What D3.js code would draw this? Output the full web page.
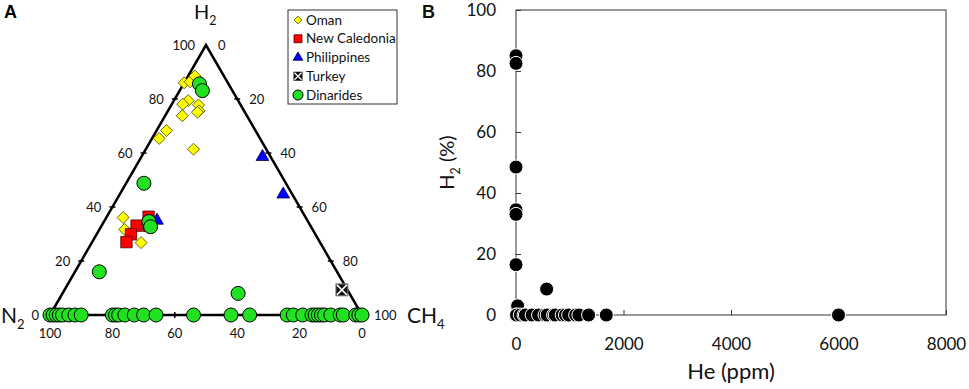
<!DOCTYPE html>
<html>
<head>
<meta charset="utf-8">
<script src="https://cdn.jsdelivr.net/npm/d3@7"></script>
<style>
    body { margin: 0; background: #fff; }
    svg { display: block; font-family: Lato, "Open Sans", sans-serif; }
</style>
</head>
<body>
<div id="chart"></div>
<script>
// Panel A, ternary H2 / N2 / CH4: each point is [H2 %, CH4 %], N2 is the rest
const omanPts = [[86, 0], [86.4, 1.7], [88.5, 2.2], [79.4, 4.6], [78.1, 3.5], [77.8, 8.7], [75.6, 10],
    [75.1, 9.7], [73.8, 5.5], [68.3, 3.2], [65.4, 2.3], [61.4, 15.3], [36.1, 5.4], [31.7, 8.1], [26.8, 15.8]];
const caledoniaPts = [[36.4, 13.4], [33.1, 11.2], [29.9, 11], [27, 11], [33, 15.2]];
const philippinesPts = [[35, 16.8], [58.6, 38.8], [44.7, 52.4]];
const turkeyPts = [[9.3, 88.9]];
const dinaridesPts = [[85.6, 5.1], [83.1, 7.3], [48.8, 5.7], [34.6, 14.4], [32.7, 15.9], [16, 7.8], [8, 56.3]];
// Dinarides samples with no H2, given by their CH4 %
const dinaridesNoH2 = [0, 1, 2, 3, 4, 6, 8, 10, 20, 21, 22, 24, 27, 30, 34, 46, 58, 64, 76, 78, 81, 84, 85,
    86, 87, 88, 90, 93, 94, 98, 99, 100];
const ternaryTicks = [20, 40, 60, 80];
const ternaryLabels = [0, 20, 40, 60, 80, 100];

// Panel B, He (ppm) against H2 (%)
const heValues = [0, 0, 0, 0, 0, 0, 30, 570, 0, 10, 80, 150, 175, 300, 420, 540, 580, 700, 730, 860, 920,
    980, 1110, 1170, 1350, 1680, 6000];
const h2Values = [85, 82.5, 48.5, 34.5, 33, 16.5, 3, 8.5, 0, 0, 0, 0, 0, 0, 0, 0, 0, 0, 0, 0, 0,
    0, 0, 0, 0, 0, 0];
const heTicks = [0, 2000, 4000, 6000, 8000];
const h2Ticks = [0, 20, 40, 60, 80, 100];

const legendNames = ['Oman', 'New Caledonia', 'Philippines', 'Turkey', 'Dinarides'];

const svg = d3.select('#chart').append('svg')
    .attr('width', 969)
    .attr('height', 389);

// ---------- panel A ----------
const tx = d3.scaleLinear().domain([0, 100]).range([50, 362]);
const ty = d3.scaleLinear().domain([0, 100]).range([315, 45]);
const pos = (h2, ch4) => [tx(ch4 + h2 / 2), ty(h2)];

const gA = svg.append('g');

gA.append('path')
    .datum([pos(0, 0), pos(100, 0), pos(0, 100)])
    .attr('d', d => d3.line()(d) + 'Z')
    .attr('fill', 'none')
    .attr('stroke', '#000')
    .attr('stroke-width', 2.5)
    .attr('stroke-linejoin', 'miter');

// ticks: left side (H2), right side (CH4), bottom (N2)
ternaryTicks.forEach(t => {
    const l = pos(t, 0), r = pos(100 - t, t), b = pos(0, t);
    gA.append('line').attr('x1', l[0] - 3).attr('x2', l[0] + 3).attr('y1', l[1]).attr('y2', l[1])
        .attr('stroke', '#000').attr('stroke-width', 1.5);
    gA.append('line').attr('x1', r[0] - 3).attr('x2', r[0] + 3).attr('y1', r[1]).attr('y2', r[1])
        .attr('stroke', '#000').attr('stroke-width', 1.5);
    gA.append('line').attr('x1', b[0]).attr('x2', b[0]).attr('y1', b[1] - 3).attr('y2', b[1] + 3)
        .attr('stroke', '#000').attr('stroke-width', 1.5);
});

const labA = gA.append('g').style('font-size', '13px').attr('fill', '#111');
ternaryLabels.forEach(t => {
    const l = pos(t, 0), r = pos(100 - t, t), b = pos(0, t);
    labA.append('text').attr('x', l[0] - 11).attr('y', l[1]).attr('dy', '0.35em')
        .attr('text-anchor', 'end').text(t);
    labA.append('text').attr('x', r[0] + 12).attr('y', r[1]).attr('dy', '0.35em')
        .attr('text-anchor', 'start').text(t);
    labA.append('text').attr('x', b[0]).attr('y', b[1] + 18).attr('dy', '0.35em')
        .attr('text-anchor', 'middle').text(100 - t);
});

function subLabel(g, x, y, main, sub, size, anchor) {
    const t = g.append('text').attr('x', x).attr('y', y)
        .attr('text-anchor', anchor).style('font-size', size + 'px').attr('fill', '#111');
    t.append('tspan').text(main);
    t.append('tspan').attr('dy', size * 0.3).style('font-size', (size * 0.62) + 'px').text(sub);
    return t;
}
subLabel(gA, 194, 19, 'H', '2', 20, 'start');
subLabel(gA, 1, 323, 'N', '2', 21, 'start');
subLabel(gA, 407, 323, 'CH', '4', 21, 'start');

gA.append('text').attr('x', 4).attr('y', 18)
    .style('font-size', '18px').style('font-weight', 'bold').attr('font-family', 'Liberation Sans, Arial, sans-serif')
    .text('A');

// markers
const diamond = d3.symbol().type(d3.symbolSquare);
function drawSeries(data, shape) {
    return gA.append('g').selectAll('path')
        .data(data)
        .join('path')
        .attr('transform', d => {
            const p = pos(d[0], d[1]);
            return `translate(${p[0]},${p[1]})` + (shape === 'diamond' ? ' rotate(45)' : '');
        });
}

drawSeries(omanPts, 'diamond')
    .attr('d', diamond.size(72)())
    .attr('fill', '#ffff00')
    .attr('stroke', '#4a4a00')
    .attr('stroke-width', 0.8);

drawSeries(caledoniaPts, 'square')
    .attr('d', d3.symbol().type(d3.symbolSquare).size(130)())
    .attr('fill', '#ff0000')
    .attr('stroke', '#500000')
    .attr('stroke-width', 0.8);

drawSeries(philippinesPts, 'tri')
    .attr('d', d3.symbol().type(d3.symbolTriangle).size(70)())
    .attr('fill', '#0000ff')
    .attr('stroke', '#000040')
    .attr('stroke-width', 0.8);

const turkeyG = gA.append('g').selectAll('g')
    .data(turkeyPts)
    .join('g')
    .attr('transform', d => { const p = pos(d[0], d[1]); return `translate(${p[0]},${p[1]})`; });
turkeyG.append('rect').attr('x', -6).attr('y', -6).attr('width', 12).attr('height', 12)
    .attr('fill', '#111').attr('stroke', '#888').attr('stroke-width', 1);
turkeyG.append('path').attr('d', 'M-5,-5L5,5M5,-5L-5,5').attr('stroke', '#fff').attr('stroke-width', 1.5);

const circleStyle = sel => sel.attr('r', 7).attr('fill', '#22e022').attr('stroke', '#000').attr('stroke-width', 1);
gA.append('g').selectAll('circle')
    .data(dinaridesNoH2)
    .join('circle')
    .attr('cx', d => pos(0, d)[0])
    .attr('cy', d => pos(0, d)[1])
    .call(circleStyle);
gA.append('g').selectAll('circle')
    .data(dinaridesPts)
    .join('circle')
    .attr('cx', d => pos(d[0], d[1])[0])
    .attr('cy', d => pos(d[0], d[1])[1])
    .call(circleStyle);

// legend
const leg = svg.append('g').attr('transform', 'translate(288,10)');
leg.append('rect').attr('width', 109).attr('height', 94)
    .attr('fill', '#fff').attr('stroke', '#333').attr('stroke-width', 1);
const legY = d3.scalePoint().domain(legendNames).range([10, 85]);
const legRow = leg.selectAll('g.row')
    .data(legendNames)
    .join('g')
    .attr('class', 'row')
    .attr('transform', d => `translate(10,${legY(d)})`);
legRow.append('text').attr('x', 8).attr('dy', '0.35em')
    .style('font-size', '13.5px').attr('fill', '#111').text(d => d);
legRow.filter(d => d === 'Oman').append('path')
    .attr('d', d3.symbol().type(d3.symbolSquare).size(30)()).attr('transform', 'rotate(45)')
    .attr('fill', '#ffff00').attr('stroke', '#4a4a00').attr('stroke-width', 0.8);
legRow.filter(d => d === 'New Caledonia').append('path')
    .attr('d', d3.symbol().type(d3.symbolSquare).size(64)())
    .attr('fill', '#ff0000').attr('stroke', '#500000').attr('stroke-width', 0.8);
legRow.filter(d => d === 'Philippines').append('path')
    .attr('d', d3.symbol().type(d3.symbolTriangle).size(40)())
    .attr('fill', '#0000ff').attr('stroke', '#000040').attr('stroke-width', 0.8);
const legTurkey = legRow.filter(d => d === 'Turkey');
legTurkey.append('rect').attr('x', -4.5).attr('y', -4.5).attr('width', 9).attr('height', 9)
    .attr('fill', '#111');
legTurkey.append('path').attr('d', 'M-3.5,-3.5L3.5,3.5M3.5,-3.5L-3.5,3.5').attr('stroke', '#fff').attr('stroke-width', 1.2);
legRow.filter(d => d === 'Dinarides').append('circle')
    .attr('r', 5).attr('fill', '#22e022').attr('stroke', '#000').attr('stroke-width', 1);

// ---------- panel B ----------
const xB = d3.scaleLinear().domain([0, 8000]).range([516, 946]);
const yB = d3.scaleLinear().domain([0, 100]).range([315, 10]);

const gB = svg.append('g').attr('fill', '#111');

gB.append('rect')
    .attr('x', xB(0)).attr('y', yB(100))
    .attr('width', xB(8000) - xB(0)).attr('height', yB(0) - yB(100))
    .attr('fill', 'none').attr('stroke', '#333').attr('stroke-width', 1);

const xAxis = gB.append('g')
    .attr('transform', `translate(0,${yB(0)})`)
    .call(d3.axisBottom(xB).tickValues(heTicks).tickFormat(d3.format('d'))
        .tickSizeInner(-5).tickSizeOuter(0).tickPadding(20));
const yAxis = gB.append('g')
    .attr('transform', `translate(${xB(0)},0)`)
    .call(d3.axisLeft(yB).tickValues(h2Ticks).tickFormat(d3.format('d'))
        .tickSizeInner(-5).tickSizeOuter(0).tickPadding(20));
[xAxis, yAxis].forEach(a => {
    a.select('.domain').remove();
    a.selectAll('line').attr('stroke', '#333');
    a.selectAll('text').style('font-size', '17px').attr('fill', '#111')
        .attr('font-family', 'Lato, "Open Sans", sans-serif');
});
xAxis.selectAll('text').attr('dy', '0.9em');

gB.append('text').attr('x', (xB(0) + xB(8000)) / 2).attr('y', 379)
    .attr('text-anchor', 'middle').style('font-size', '22px').text('He (ppm)');

const yLab = subLabel(gB, 0, 0, 'H', '2', 20, 'middle');
yLab.append('tspan').attr('dy', -20 * 0.3).text(' (%)');
yLab.attr('transform', `translate(454,${(yB(0) + yB(100)) / 2}) rotate(-90)`).attr('x', 0).attr('y', 0);

gB.append('text').attr('x', 422).attr('y', 18)
    .style('font-size', '18px').style('font-weight', 'bold').attr('font-family', 'Liberation Sans, Arial, sans-serif')
    .text('B');

gB.append('g').selectAll('circle')
    .data(heValues.map((he, i) => [he, h2Values[i]]))
    .join('circle')
    .attr('cx', d => xB(d[0]))
    .attr('cy', d => yB(d[1]))
    .attr('r', 7)
    .attr('fill', '#000')
    .attr('stroke', '#fff')
    .attr('stroke-width', 1);
</script>
</body>
</html>
